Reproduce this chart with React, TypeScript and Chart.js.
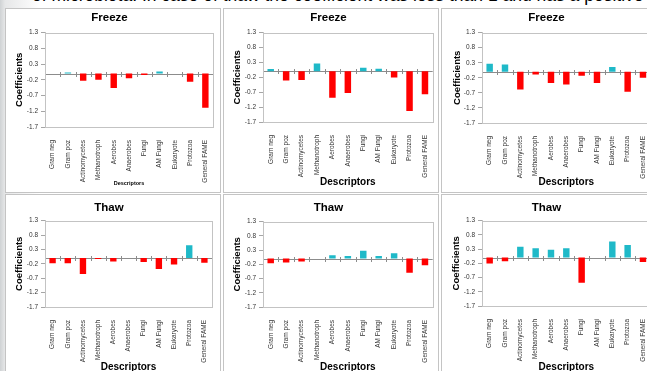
import React, { useEffect, useRef } from "react";
import { Chart, registerables } from "chart.js";
Chart.register(...registerables);

const categories = ["Gram neg", "Gram poz", "Actinomycetes", "Methanotroph", "Aerobes", "Anaerobes", "Fungi", "AM Fungi", "Eukaryote", "Protozoa", "General FAME"];
const yTicks = [-1.7, -1.2, -0.7, -0.2, 0.3, 0.8, 1.3];

const freeze1 = [0, 0.03, -0.23, -0.2, -0.46, -0.15, -0.05, 0.06, 0, -0.26, -1.09];
const freeze2 = [0.08, -0.31, -0.29, 0.26, -0.89, -0.73, 0.12, 0.09, -0.21, -1.33, -0.77];
const freeze3 = [0.27, 0.24, -0.59, -0.09, -0.37, -0.42, -0.13, -0.37, 0.16, -0.66, -0.2];
const thaw1 = [-0.18, -0.18, -0.55, -0.03, -0.12, 0, -0.14, -0.38, -0.22, 0.44, -0.16];
const thaw2 = [-0.16, -0.14, -0.1, 0, 0.12, 0.09, 0.28, 0.09, 0.19, -0.5, -0.23];
const thaw3 = [-0.21, -0.13, 0.38, 0.33, 0.28, 0.33, -0.88, 0, 0.57, 0.44, -0.15];

const FONT = "'Liberation Sans', Arial, sans-serif";
const RED = "#ff0000";
const CYAN = "#1fb9c8";

type PanelCfg = {
  left: number; top: number; title: string; values: number[];
  yW: number; xH: number; padRight: number;
  tPadTop: number; tPadBottom: number; yTitlePad: number;
  xTickPad: number; xTitleSize: number; xTitlePad: number;
};

const panels: PanelCfg[] = [
  { left: 5, top: 8, title: "Freeze", values: freeze1, yW: 39, xH: 65, padRight: 7, tPadTop: 1.5, tPadBottom: 8.3, yTitlePad: 7.3, xTickPad: 5, xTitleSize: 5.5, xTitlePad: 5.7 },
  { left: 223, top: 8, title: "Freeze", values: freeze2, yW: 39, xH: 70, padRight: 5, tPadTop: 1.5, tPadBottom: 8.3, yTitlePad: 7.3, xTickPad: 5, xTitleSize: 10, xTitlePad: 4 },
  { left: 441, top: 8, title: "Freeze", values: freeze3, yW: 40, xH: 69, padRight: 5, tPadTop: 1.5, tPadBottom: 8.3, yTitlePad: 9.3, xTickPad: 5, xTitleSize: 10, xTitlePad: 4 },
  { left: 5, top: 194, title: "Thaw", values: thaw1, yW: 39, xH: 71, padRight: 8, tPadTop: 6.4, tPadBottom: 5.4, yTitlePad: 7.3, xTickPad: 5, xTitleSize: 10, xTitlePad: 5 },
  { left: 223, top: 194, title: "Thaw", values: thaw2, yW: 39, xH: 71, padRight: 5, tPadTop: 6.4, tPadBottom: 6.4, yTitlePad: 7.3, xTickPad: 5, xTitleSize: 10, xTitlePad: 5 },
  { left: 441, top: 194, title: "Thaw", values: thaw3, yW: 40, xH: 72, padRight: 5, tPadTop: 6.4, tPadBottom: 5.4, yTitlePad: 8.3, xTickPad: 5, xTitleSize: 10, xTitlePad: 5 },
];

const zeroAxis = {
  id: "zeroAxis",
  beforeDatasetsDraw(chart: any) {
    const { ctx, chartArea, scales } = chart;
    const y0 = Math.round(scales.y.getPixelForValue(0)) + 0.5;
    ctx.save();
    ctx.strokeStyle = "#8c8c8c";
    ctx.lineWidth = 1;
    ctx.beginPath();
    ctx.moveTo(chartArea.left, y0);
    ctx.lineTo(chartArea.right, y0);
    const n = chart.data.labels.length;
    for (let i = 0; i <= n; i++) {
      const x = Math.round(scales.x.getPixelForValue(i - 0.5)) + 0.5;
      ctx.moveTo(x, y0 - 2.5);
      ctx.lineTo(x, y0 + 2.5);
    }
    ctx.stroke();
    ctx.restore();
  },
  afterDatasetsDraw(chart: any) {
    const { ctx, chartArea } = chart;
    ctx.save();
    ctx.strokeStyle = "#c3c3c3";
    ctx.lineWidth = 1;
    ctx.strokeRect(Math.round(chartArea.left) + 0.5, Math.round(chartArea.top) + 0.5,
      Math.round(chartArea.right - chartArea.left), Math.round(chartArea.bottom - chartArea.top));
    ctx.restore();
  },
};

function Panel({ cfg }: { cfg: PanelCfg }) {
  const ref = useRef<HTMLCanvasElement>(null);
  useEffect(() => {
    if (!ref.current) return;
    const chart = new Chart(ref.current, {
      type: "bar",
      data: {
        labels: categories,
        datasets: [{
          data: cfg.values,
          backgroundColor: cfg.values.map((v) => (v >= 0 ? CYAN : RED)),
          borderWidth: 0,
          barPercentage: 0.42,
          categoryPercentage: 1,
        }],
      },
      options: {
        animation: false,
        responsive: false,
        devicePixelRatio: 1,
        layout: { padding: { top: 0, left: 0, right: cfg.padRight, bottom: 0 } },
        plugins: {
          legend: { display: false },
          tooltip: { enabled: false },
          title: {
            display: true, text: cfg.title, color: "#000",
            font: { family: FONT, size: 11.5, weight: "bold" },
            padding: { top: cfg.tPadTop, bottom: cfg.tPadBottom },
          },
        },
        scales: {
          x: {
            grid: { display: false },
            border: { display: false },
            ticks: {
              autoSkip: false, minRotation: 90, maxRotation: 90, padding: cfg.xTickPad,
              font: { family: FONT, size: 6.5 }, color: "#333",
            },
            title: {
              display: true, text: "Descriptors", color: "#000",
              font: { family: FONT, size: cfg.xTitleSize, weight: "bold" },
              padding: { top: 0, bottom: cfg.xTitlePad },
            },
            afterFit: (s: any) => { s.height = cfg.xH; },
          },
          y: {
            min: -1.7, max: 1.3,
            afterBuildTicks: (s: any) => { s.ticks = yTicks.map((v) => ({ value: v })); },
            ticks: {
              callback: (v: any) => Number(v).toFixed(1), padding: 3,
              font: { family: FONT, size: 6.5 }, color: "#333",
            },
            grid: { drawOnChartArea: false, tickLength: 4, color: "#a6a6a6" },
            border: { display: true, color: "#c3c3c3" },
            title: {
              display: true, text: "Coefficients", color: "#000",
              font: { family: FONT, size: 9.5, weight: "bold" },
              padding: { top: cfg.yTitlePad, bottom: 0 },
            },
            afterFit: (s: any) => { s.width = cfg.yW; },
          },
        },
      },
      plugins: [zeroAxis],
    } as any);
    return () => chart.destroy();
  }, [cfg]);
  return (
    <div style={{ position: "absolute", left: cfg.left, top: cfg.top, width: 216, height: 185, boxSizing: "border-box", border: "1px solid #c4c4c4", background: "#fff" }}>
      <canvas ref={ref} width={214} height={183} style={{ display: "block" }} />
    </div>
  );
}

export default function App() {
  return (
    <div style={{ position: "fixed", left: 0, top: 0, width: 647, height: 371, overflow: "hidden", background: "#fff" }}>
      <div style={{ position: "absolute", left: 0, top: 0, width: 120, height: 371, background: "linear-gradient(90deg, #cfd2d4 0px, #e6e7e8 5px, #ffffff 40px)" }} />
      <div style={{ position: "absolute", left: 32, top: -13, fontFamily: FONT, fontSize: 17.5, color: "#000", whiteSpace: "nowrap", lineHeight: "17px" }}>
        of microbiota. In case of thaw the coefficient was less than 1 and has a positive
      </div>
      {panels.map((p, i) => <Panel key={i} cfg={p} />)}
    </div>
  );
}
